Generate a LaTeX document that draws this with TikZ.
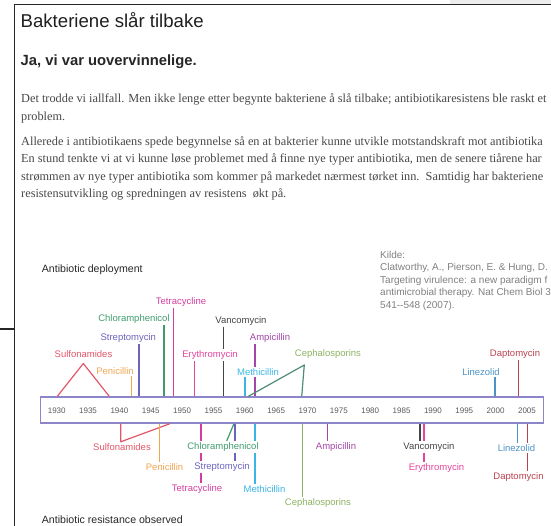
\documentclass[tikz,border=0pt]{standalone}
\usepackage{fontspec}
\setmainfont{Liberation Serif}
\newfontfamily\sansfont{Liberation Sans}

\definecolor{sulf}{HTML}{E2566A}
\definecolor{peni}{HTML}{F2A552}
\definecolor{strep}{HTML}{6B63BE}
\definecolor{chlor}{HTML}{3E9B6C}
\definecolor{tetra}{HTML}{D23D9E}
\definecolor{eryth}{HTML}{E4449C}
\definecolor{vanco}{HTML}{454545}
\definecolor{ampi}{HTML}{A445A8}
\definecolor{meth}{HTML}{3AB5E6}
\definecolor{ceph}{HTML}{8DB162}
\definecolor{cephdark}{HTML}{4E8C74}
\definecolor{linez}{HTML}{4C92C6}
\definecolor{dapto}{HTML}{B8424F}
\definecolor{tlframe}{HTML}{8C86C9}

\tikzset{
  drug/.style={font=\sansfont\fontsize{9.5}{11}\selectfont, inner sep=1.2pt},
  conn/.style={line width=1.2pt, line join=round},
  yearlab/.style={font=\sansfont\fontsize{8}{9}\selectfont, text=black!65},
  bodyline/.style={anchor=base west, inner sep=0pt, font=\fontsize{12.3}{14}\selectfont, text=black!72},
  srcline/.style={anchor=base west, inner sep=0pt, font=\sansfont\fontsize{10}{12}\selectfont, text=black!50},
  axistitle/.style={anchor=west, inner sep=0pt, font=\sansfont\fontsize{10.6}{12}\selectfont, text=black!85}
}

\begin{document}
\begin{tikzpicture}[x=1pt, y=-1pt]
\useasboundingbox (0,0) rectangle (551,526);
\clip (0,0) rectangle (551,526);
%Page frame
\fill[black!7] (450,0) rectangle (551,3.8);
\draw[line width=1.4pt, black!85] (551,4.5) -- (14.5,4.5) -- (14.5,526);
\draw[line width=1.4pt, black!85] (0,329) -- (14.5,329);
%Headings
\node[anchor=base west, inner sep=0pt, font=\sansfont\fontsize{18.6}{20}\selectfont, text=black!88] (title) at (20.5,28) {Bakteriene slår tilbake};
\node[anchor=base west, inner sep=0pt, font=\sansfont\bfseries\fontsize{14.8}{16}\selectfont, text=black!85] (lead) at (20.5,66) {Ja, vi var uovervinnelige.};
%Body text
\node[bodyline] (p1a) at (21,102.5) {Det trodde vi iallfall. Men ikke lenge etter begynte bakteriene å slå tilbake; antibiotikaresistens ble raskt et};
\node[bodyline] (p1b) at (21,120.5) {problem.};
\node[bodyline] (p2a) at (21,145.5) {Allerede i antibiotikaens spede begynnelse så en at bakterier kunne utvikle motstandskraft mot antibiotika};
\node[bodyline] (p2b) at (21,163) {En stund tenkte vi at vi kunne løse problemet med å finne nye typer antibiotika, men de senere tiårene har};
\node[bodyline] (p2c) at (21,180.5) {strømmen av nye typer antibiotika som kommer på markedet nærmest tørket inn.\ \ Samtidig har bakteriene};
\node[bodyline] (p2d) at (21,198) {resistensutvikling og spredningen av resistens\ \ økt på.};
%Source
\node[srcline] (src1) at (380,258.5) {Kilde:};
\node[srcline] (src2) at (380,271) {Clatworthy, A., Pierson, E. \& Hung, D.};
\node[srcline] (src3) at (380,283.5) {Targeting virulence: a new paradigm f};
\node[srcline] (src4) at (380,296) {antimicrobial therapy. Nat Chem Biol 3};
\node[srcline] (src5) at (380,308.5) {541--548 (2007).};
%Timeline
\node[axistitle] (deploy) at (41.7,270) {Antibiotic deployment};
\node[axistitle] (resist) at (41.7,519.5) {Antibiotic resistance observed};
\node[draw=tlframe, line width=1.3pt, minimum width=502.6pt, minimum height=26pt, inner sep=0pt] (tl) at (292,410) {};
\foreach \yr in {1930,1935,...,2005}
  \node[yearlab] (y\yr) at ({56.7+(\yr-1930)*6.27},410.5) {\yr};
%Deployment
\node[drug, text=tetra] (dTet) at (181,301.7) {Tetracycline};
\node[drug, text=chlor] (dChl) at (134,319) {Chloramphenicol};
\node[drug, text=vanco] (dVan) at (241,320.7) {Vancomycin};
\node[drug, text=strep] (dStr) at (128.3,338.3) {Streptomycin};
\node[drug, text=ampi] (dAmp) at (270,338.3) {Ampicillin};
\node[drug, text=sulf] (dSul) at (83.5,354.5) {Sulfonamides};
\node[drug, text=eryth] (dEry) at (210,355) {Erythromycin};
\node[drug, text=ceph] (dCep) at (328,354.3) {Cephalosporins};
\node[drug, text=dapto] (dDap) at (515,354.3) {Daptomycin};
\node[drug, text=peni] (dPen) at (115,371.5) {Penicillin};
\node[drug, text=meth] (dMet) at (258,371.7) {Methicillin};
\node[drug, text=linez] (dLin) at (481,371.7) {Linezolid};
\draw[conn, sulf] (57.3,0 |- tl.north) -- (83.3,363.5) -- (109.3,0 |- tl.north);
\draw[conn, peni] (131.7,0 |- dPen.south) -- (131.7,0 |- tl.north);
\draw[conn, strep] (139,0 |- dStr.south) -- (139,0 |- tl.north);
\draw[conn, chlor] (164,0 |- dChl.south) -- (164,0 |- tl.north);
\draw[conn, tetra] (173.3,0 |- dTet.south) -- (173.3,0 |- tl.north);
\draw[conn, eryth] (194.3,0 |- dEry.south) -- (194.3,0 |- tl.north);
\draw[conn, vanco] (223.3,0 |- dVan.south) -- (223.3,0 |- dEry.north) (223.3,0 |- dEry.south) -- (223.3,0 |- tl.north);
\draw[conn, ampi] (255,0 |- dAmp.south) -- (255,0 |- dMet.north) (255,0 |- dMet.south) -- (255,0 |- tl.north);
\draw[conn, meth] (245,0 |- dMet.south) -- (245,0 |- tl.north);
\draw[conn, cephdark] (248.3,0 |- tl.north) -- (304.3,365) -- (301.7,0 |- tl.north);
\draw[conn, linez] (495,0 |- dLin.south) -- (495,0 |- tl.north);
\draw[conn, dapto] (518.3,0 |- dDap.south) -- (518.3,0 |- tl.north);
%Resistance
\node[drug, text=sulf] (rSul) at (122,446.7) {Sulfonamides};
\node[drug, text=chlor] (rChl) at (223,446.7) {Chloramphenicol};
\node[drug, text=ampi] (rAmp) at (336,446.7) {Ampicillin};
\node[drug, text=vanco] (rVan) at (429,446.7) {Vancomycin};
\node[drug, text=linez] (rLin) at (516.5,448) {Linezolid};
\node[drug, text=peni] (rPen) at (164.5,467) {Penicillin};
\node[drug, text=strep] (rStr) at (222,467) {Streptomycin};
\node[drug, text=eryth] (rEry) at (436.5,467.7) {Erythromycin};
\node[drug, text=dapto] (rDap) at (518.5,476.7) {Daptomycin};
\node[drug, text=tetra] (rTet) at (197,489) {Tetracycline};
\node[drug, text=meth] (rMet) at (264.5,489) {Methicillin};
\node[drug, text=ceph] (rCep) at (318,502.7) {Cephalosporins};
\draw[conn, sulf] (120.7,0 |- tl.south) -- (120.7,0 |- rSul.north) -- (170,0 |- tl.south);
\draw[conn, peni] (159.3,0 |- tl.south) -- (159.3,0 |- rPen.north);
\draw[conn, chlor] (234,0 |- tl.south) -- (226.7,0 |- rChl.north);
\draw[conn, strep] (235,0 |- tl.south) -- (235,0 |- rChl.north) (235,0 |- rChl.south) -- (235,0 |- rStr.north);
\draw[conn, tetra] (201,0 |- tl.south) -- (201,0 |- rChl.north) (201,0 |- rChl.south) -- (201,0 |- rStr.north) (201,0 |- rStr.south) -- (201,0 |- rTet.north);
\draw[conn, meth] (255,0 |- tl.south) -- (255,0 |- rChl.north) (255,0 |- rChl.south) -- (255,0 |- rMet.north);
\draw[conn, ceph] (302.3,0 |- tl.south) -- (302.3,0 |- rCep.north);
\draw[conn, ampi] (327.7,0 |- tl.south) -- (327.7,0 |- rAmp.north);
\draw[conn, vanco] (420,0 |- tl.south) -- (420,0 |- rVan.north);
\draw[conn, eryth] (424,0 |- tl.south) -- (424,0 |- rVan.north) (424,0 |- rVan.south) -- (424,0 |- rEry.north);
\draw[conn, linez] (517.3,0 |- tl.south) -- (517.3,0 |- rLin.north);
\draw[conn, dapto] (527.7,0 |- tl.south) -- (527.7,0 |- rLin.north) (527.7,0 |- rLin.south) -- (527.7,0 |- rDap.north);
\end{tikzpicture}
\end{document}
